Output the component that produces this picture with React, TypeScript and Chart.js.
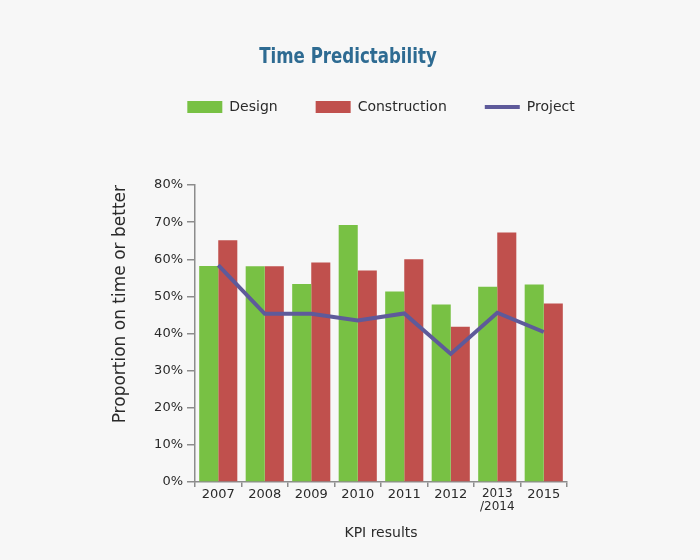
import React, { useEffect, useRef } from 'react';
import Chart from 'chart.js/auto';

const categories = ['2007', '2008', '2009', '2010', '2011', '2012', ['2013', '/2014'], '2015'];
const designValues = [58.2, 58.1, 53.3, 69.2, 51.3, 47.8, 52.6, 53.2];
const constructionValues = [65.1, 58.1, 59.1, 57.0, 60.0, 41.8, 67.2, 48.1];
const projectValues = [58.4, 45.3, 45.3, 43.5, 45.4, 34.5, 45.6, 40.4];
const yMax = 80;
const yStep = 10;

const axisColor = '#8c8c8c';
const textColor = '#2a2a2a';
const fontFamily = "'DejaVu Sans', Verdana, sans-serif";

// leaves room between the legend and the plot
const legendSpacing = {
    id: 'legendSpacing',
    beforeInit(chart: any) {
        if (!chart.legend) return;
        const fit = chart.legend.fit;
        chart.legend.fit = function () {
            fit.call(this);
            this.height += 61;
        };
    },
};

const App: React.FC = () => {
    const chartRef = useRef<HTMLCanvasElement>(null);
    const chartInstanceRef = useRef<Chart | null>(null);

    useEffect(() => {
        if (!chartRef.current) return;
        const ctx = chartRef.current.getContext('2d');
        if (!ctx) return;

        if (chartInstanceRef.current) {
            chartInstanceRef.current.destroy();
        }

        chartInstanceRef.current = new Chart(ctx, {
            type: 'bar',
            data: {
                labels: categories,
                datasets: [
                    {
                        type: 'bar',
                        label: 'Design',
                        data: designValues,
                        backgroundColor: '#78c144',
                        pointStyle: 'rect',
                        categoryPercentage: 0.82,
                        barPercentage: 1,
                        order: 1,
                    },
                    {
                        type: 'bar',
                        label: 'Construction',
                        data: constructionValues,
                        backgroundColor: '#c0504d',
                        pointStyle: 'rect',
                        categoryPercentage: 0.82,
                        barPercentage: 1,
                        order: 1,
                    },
                    {
                        type: 'line',
                        label: 'Project',
                        data: projectValues,
                        borderColor: '#5e5a9a',
                        backgroundColor: '#5e5a9a',
                        borderWidth: 4,
                        pointBorderWidth: 4,
                        pointRadius: 0,
                        pointHoverRadius: 0,
                        pointStyle: 'line',
                        tension: 0,
                        order: 0,
                    },
                ],
            } as any,
            options: {
                animation: false,
                responsive: true,
                maintainAspectRatio: false,
                layout: {
                    padding: { left: 62, top: 62, right: 0, bottom: 0 },
                },
                scales: {
                    x: {
                        grid: {
                            display: true,
                            drawOnChartArea: false,
                            offset: true,
                            tickLength: 5,
                            color: axisColor,
                            lineWidth: 1.5,
                        },
                        border: { color: axisColor, width: 1.5 },
                        ticks: {
                            color: textColor,
                            padding: 0,
                            maxRotation: 0,
                            autoSkip: false,
                            font: (c: any) => ({
                                family: fontFamily,
                                size: c.index === 6 ? 12 : 13,
                                lineHeight: 1.1,
                            }),
                        },
                        title: {
                            display: true,
                            text: 'KPI results',
                            color: textColor,
                            font: { family: fontFamily, size: 14 },
                            padding: { top: 0, bottom: 18 },
                        },
                        afterFit: (scale: any) => {
                            scale.height = 78;
                        },
                    },
                    y: {
                        min: 0,
                        max: yMax,
                        grid: {
                            display: true,
                            drawOnChartArea: false,
                            tickLength: 8,
                            color: axisColor,
                            lineWidth: 1.5,
                        },
                        border: { color: axisColor, width: 1.5 },
                        ticks: {
                            stepSize: yStep,
                            padding: 4,
                            color: textColor,
                            font: { family: fontFamily, size: 13 },
                            callback: (value: any) => value + '%',
                        },
                        title: {
                            display: true,
                            text: 'Proportion on time or better',
                            color: textColor,
                            align: 'end',
                            font: { family: fontFamily, size: 17 },
                            padding: { top: 48, bottom: 0 },
                        },
                        afterFit: (scale: any) => {
                            scale.width = 133;
                        },
                    },
                    // empty axis that keeps the right margin outside the legend box
                    spacer: {
                        type: 'linear',
                        position: 'right',
                        display: true,
                        grid: { display: false },
                        border: { display: false },
                        ticks: { display: false },
                        afterFit: (scale: any) => {
                            scale.width = 133;
                        },
                    },
                },
                plugins: {
                    legend: {
                        position: 'top',
                        labels: {
                            usePointStyle: true,
                            pointStyleWidth: 35,
                            boxHeight: 12,
                            padding: 38,
                            color: textColor,
                            font: { family: fontFamily, size: 14 },
                            sort: (a: any, b: any) => a.datasetIndex - b.datasetIndex,
                        },
                    },
                    tooltip: { enabled: false },
                },
            } as any,
            plugins: [legendSpacing],
        });

        return () => {
            if (chartInstanceRef.current) {
                chartInstanceRef.current.destroy();
                chartInstanceRef.current = null;
            }
        };
    }, []);

    return (
        <div
            style={{
                position: 'fixed',
                top: 0,
                left: 0,
                width: 700,
                height: 560,
                background: '#f7f7f7',
            }}
        >
            <div
                style={{
                    position: 'absolute',
                    top: 42,
                    left: 0,
                    width: 696,
                    textAlign: 'center',
                    font: "bold 22px/28px 'Liberation Sans Narrow', 'DejaVu Sans Condensed', 'Arial Narrow', sans-serif",
                    color: '#2e6b92',
                    transform: 'scaleX(0.84)',
                    zIndex: 1,
                }}
            >
                Time Predictability
            </div>
            <canvas ref={chartRef} />
        </div>
    );
};

export default App;
